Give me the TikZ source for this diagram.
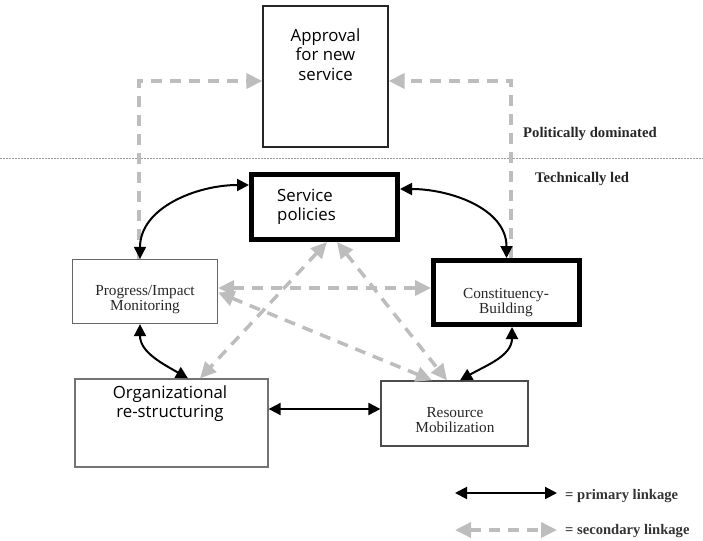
\documentclass[tikz,border=0pt]{standalone}
\usepackage{fontspec}
\setmainfont{Liberation Serif}
\newfontfamily\boxsans{Open Sans}
\usetikzlibrary{arrows.meta}
\definecolor{seclink}{HTML}{BDBDBD}
\definecolor{sepline}{HTML}{9A9A9A}
\tikzset{
  thinbox/.style={draw=black!75, line width=1.3pt, rectangle, inner sep=0pt},
  thickbox/.style={draw=black, line width=5pt, rectangle, inner sep=0pt},
  sanstext/.style={font=\boxsans\fontsize{16.8}{19.5}\selectfont, align=center, inner sep=0pt},
  seriftext/.style={font=\fontsize{15.3}{15}\selectfont, align=center, inner sep=0pt, text=black!85},
  zonetext/.style={font=\bfseries\fontsize{14.7}{16}\selectfont, anchor=west, inner sep=0pt, text=black!85},
  legtext/.style={font=\bfseries\fontsize{14.6}{16}\selectfont, anchor=west, inner sep=0pt, text=black!80},
  primary/.style={line width=2pt, draw=black, {Triangle[length=12pt,width=12pt]}-{Triangle[length=12pt,width=12pt]}},
  secondary/.style={line width=3.5pt, draw=seclink, dash pattern=on 11pt off 8pt,
     {Triangle[length=16pt,width=15pt,fill=seclink]}-{Triangle[length=16pt,width=15pt,fill=seclink]}},
  secondaryone/.style={line width=3.5pt, draw=seclink, dash pattern=on 11pt off 8pt,
     -{Triangle[length=16pt,width=15pt,fill=seclink]}},
}
\begin{document}
\begin{tikzpicture}[x=1pt,y=-1pt]
\useasboundingbox (0,0) rectangle (703,540);

% separator
\draw[sepline, line width=0.9pt, dash pattern=on 2pt off 1pt] (0,158) -- (703,158);
\node[zonetext] (pol) at (523,134) {Politically dominated};
\node[zonetext] (tech) at (535,179) {Technically led};

% boxes
\node[thinbox, draw=black!85, minimum width=125pt, minimum height=141pt] (appr) at (325.5,76.5) {};
\node[sanstext] (apprt) at (325.5,54.5) {Approval\\for new\\service};

\node[thickbox, minimum width=146pt, minimum height=65pt] (serv) at (324.5,207) {};
\node[sanstext, align=left, anchor=west] (servt) at (277,207) {Service\\policies};

\node[thinbox, draw=black!60, minimum width=145pt, minimum height=64pt] (prog) at (145,291.5) {};
\node[seriftext] (progt) at (145,300) {Progress/Impact\\Monitoring};

\node[thickbox, minimum width=146pt, minimum height=64pt] (cons) at (506.5,292.5) {};
\node[seriftext] (const) at (506,302.5) {Constituency-\\Building};

\node[thinbox, draw=black!55, minimum width=193pt, minimum height=88pt] (org) at (171.5,423) {};
\node[sanstext] (orgt) at (170,403.5) {Organizational\\re-structuring};

\node[thinbox, draw=black!70, minimum width=147pt, minimum height=65pt] (res) at (454.5,413.5) {};
\node[seriftext] (rest) at (455,420.5) {Resource\\Mobilization};

% secondary linkages
\draw[secondaryone] ([xshift=-6pt]prog.north) |- ([yshift=-4.5pt]appr.west);
\draw[secondaryone] ([xshift=4.5pt]cons.north) |- ([yshift=-4.5pt]appr.east);
\draw[secondary] ([yshift=3.5pt]prog.east) -- ([yshift=4.5pt]cons.west);
\draw[secondary] ([yshift=-1pt]prog.east) -- ([xshift=-22.5pt]res.north);
\draw[secondary] ([xshift=12.5pt]serv.south) -- ([xshift=-7.5pt]res.north);
\draw[secondary] ([xshift=2.5pt]serv.south) -- ([xshift=28.5pt]org.north);

% primary linkages
\draw[primary] ([xshift=-5pt]prog.north) to[out=90,in=180] ([yshift=22pt]serv.west);
\draw[primary] ([yshift=18pt]serv.east) to[out=0,in=90] (cons.north);
\draw[primary] ([xshift=-5pt]prog.south) to[out=-90,in=150] ([xshift=16.5pt]org.north);
\draw[primary] ([xshift=5.5pt]cons.south) to[out=-90,in=30] ([xshift=5.5pt]res.north);
\draw[primary] ([yshift=14pt]org.east) -- ([yshift=4.5pt]res.west);

% legend
\coordinate (lg1a) at (455,493);
\coordinate (lg1b) at (557,493);
\coordinate (lg2a) at (455,530);
\coordinate (lg2b) at (557,530);
\draw[primary] (lg1a) -- (lg1b);
\draw[secondary] (lg2a) -- (lg2b);
\node[legtext] (lgt1) at (565,496) {= primary linkage};
\node[legtext] (lgt2) at (565,531) {= secondary linkage};
\end{tikzpicture}
\end{document}
